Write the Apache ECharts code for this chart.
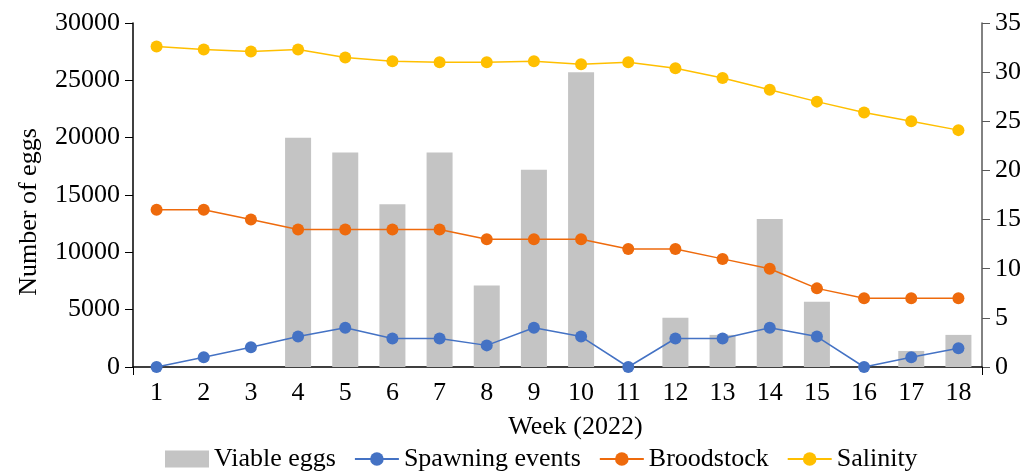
<!DOCTYPE html>
<html><head><meta charset="utf-8">
<script src="https://cdn.jsdelivr.net/npm/echarts@6/dist/echarts.min.js"></script>
<style>html,body{margin:0;padding:0;background:#fff}#c{width:1027px;height:474px}</style>
</head><body><div id="c"></div>
<script>
var weeks = ['1','2','3','4','5','6','7','8','9','10','11','12','13','14','15','16','17','18'];
var viableEggs = [0,0,0,20000,18700,14200,18700,7100,17200,25700,0,4300,2800,12900,5700,0,1400,2800];
var spawningEvents = [0,1,2,3.1,4,2.9,2.9,2.2,4,3.1,0,2.9,2.9,4,3.1,0,1,1.9];
var broodstock = [16,16,15,14,14,14,14,13,13,13,12,12,11,10,8,7,7,7];
var salinity = [32.6,32.3,32.1,32.3,31.5,31.1,31.0,31.0,31.1,30.8,31.0,30.4,29.4,28.2,27.0,25.9,25.0,24.1];
var leftTicks = [0,30000,5000];
var rightTicks = [0,35,5];

var F = 'Liberation Serif';
var FS = 26;
var chart = echarts.init(document.getElementById('c'));
function lineSeries(name, data, color){
  return {name:name, type:'line', yAxisIndex:1, data:data, symbol:'circle', symbolSize:12,
    lineStyle:{color:color,width:1.5}, itemStyle:{color:color}, z:3, animation:false};
}
function plain(v){ return String(v); }
chart.setOption({
  animation:false,
  textStyle:{fontFamily:F,color:'#000'},
  grid:{left:133,right:45,top:23,bottom:107},
  legend:{bottom:-3,left:160,itemWidth:44,itemHeight:17,itemGap:18,
    textStyle:{fontFamily:F,fontSize:FS,color:'#000'},
    data:[{name:'Viable eggs',icon:'rect'},'Spawning events','Broodstock','Salinity']},
  xAxis:[{type:'category',data:weeks,boundaryGap:true,
    name:'Week (2022)',nameLocation:'middle',nameGap:47,
    nameTextStyle:{fontFamily:F,fontSize:FS,color:'#000',padding:[0,0,0,36]},
    axisLine:{lineStyle:{color:'#000',width:1.5}},
    axisTick:{alignWithLabel:true,length:8,lineStyle:{color:'#000'}},
    axisLabel:{fontFamily:F,fontSize:FS,color:'#000',margin:13}},
   {type:'value',min:0,max:18,interval:18,position:'bottom',gridIndex:0,
    axisLine:{show:false},axisLabel:{show:false},splitLine:{show:false},
    axisTick:{show:true,length:8,lineStyle:{color:'#000'}}}],
  yAxis:[{type:'value',min:leftTicks[0],max:leftTicks[1],interval:leftTicks[2],
    name:'Number of eggs',nameLocation:'middle',nameGap:91,nameRotate:90,
    nameTextStyle:{fontFamily:F,fontSize:FS,color:'#000',padding:[0,34,0,0]},
    axisLine:{show:true,lineStyle:{color:'#000',width:1.5}},
    axisTick:{show:true,length:8,lineStyle:{color:'#000'}},
    splitLine:{show:false},
    axisLabel:{fontFamily:F,fontSize:FS,color:'#000',margin:13,formatter:plain}},
   {type:'value',min:rightTicks[0],max:rightTicks[1],interval:rightTicks[2],position:'right',
    axisLine:{show:true,lineStyle:{color:'#595959',width:1.5}},
    axisTick:{show:true,length:8,lineStyle:{color:'#595959'}},
    splitLine:{show:false},
    axisLabel:{fontFamily:F,fontSize:FS,color:'#000',margin:13,formatter:plain}}],
  series:[
    {name:'Viable eggs',type:'bar',data:viableEggs,barWidth:26,itemStyle:{color:'#c4c4c4'},z:2},
    lineSeries('Spawning events',spawningEvents,'#4472c4'),
    lineSeries('Broodstock',broodstock,'#ee6a0c'),
    lineSeries('Salinity',salinity,'#ffbf00')
  ]
});
</script></body></html>
